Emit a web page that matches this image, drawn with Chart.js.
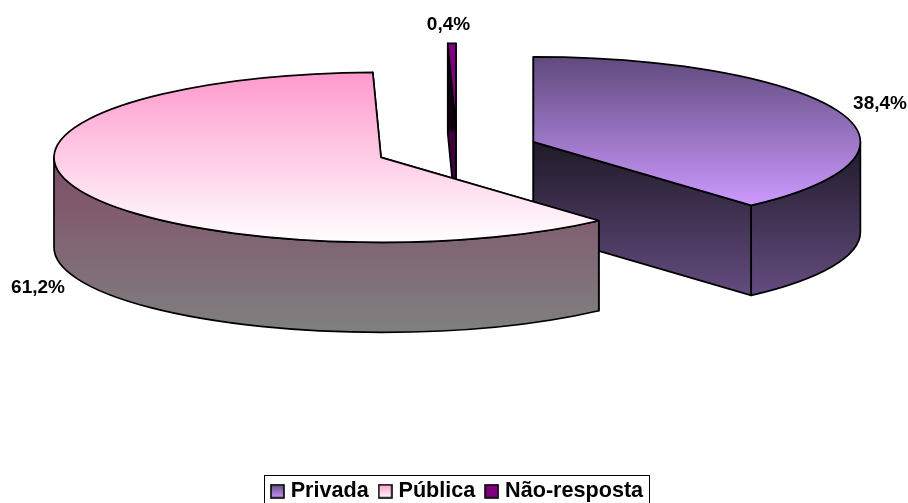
<!DOCTYPE html>
<html>
<head>
<meta charset="utf-8">
<style>
  html, body { margin: 0; padding: 0; background: #fff; overflow: hidden; }
  canvas { display: block; }
</style>
<script src="https://cdn.jsdelivr.net/npm/chart.js@4"></script>
</head>
<body>
<canvas id="chart" width="908" height="503"></canvas>
<script>
// Survey shares per category
const categories = ['Privada', 'Pública', 'Não-resposta'];
const shares = [38.4, 61.2, 0.4];

// Face colours per category: top surface gradient and wall gradient
const topFrom = ['#5f4a7d', '#ff99cc', '#800080'];
const topTo = ['#cc99ff', '#ffffff', '#800080'];
const wallFrom = ['#1f1a28', '#804c66', '#100010'];
const wallTo = ['#644c80', '#808080', '#400040'];
const swatchFrom = ['#5f4a7d', '#ff99cc', '#800080'];
const swatchTo = ['#cc99ff', '#ffffff', '#800080'];

// Pie projection in canvas pixels
const PIE = { cx: 457, cy: 149.5, rx: 327, ry: 85, depth: 90, explode: 0.25 };
const OUTLINE = 1.7;

// Anchor of each percentage label (text centre)
const labelX = [880, 38, 448.5];
const labelY = [104, 288, 25];

const LEGEND_FRAME = { left: 264, top: 475, right: 649, bottom: 506 };

function angleSpan(index) {
  const total = shares.reduce((a, b) => a + b, 0);
  const before = shares.slice(0, index).reduce((a, b) => a + b, 0);
  const start = -Math.PI / 2 + 2 * Math.PI * before / total;
  const end = start + 2 * Math.PI * shares[index] / total;
  return { start, end };
}

// Lowest point of a slice rim, as a fraction of the radius below its apex
function lowestSin(start, end) {
  if (start <= Math.PI / 2 && end >= Math.PI / 2) return 1;
  return Math.max(Math.sin(start), Math.sin(end));
}

// Slice that extrudes itself: walls first, then the flattened top from ArcElement
class Slice3D extends Chart.ArcElement {
  static id = 'slice3d';

  draw(ctx, area) {
    const i = this.$context.dataIndex;
    const { startAngle: a0, endAngle: a1, outerRadius: R } = this;
    const { rx, ry, depth, explode } = PIE;
    const mid = (a0 + a1) / 2;
    const ax = PIE.cx + Math.cos(mid) * explode * rx;
    const ay = PIE.cy + Math.sin(mid) * explode * ry;
    const rim = a => [ax + Math.cos(a) * rx, ay + Math.sin(a) * ry];
    const low = lowestSin(a0, a1) * ry;

    ctx.save();
    ctx.lineWidth = OUTLINE;
    ctx.lineJoin = 'round';
    ctx.strokeStyle = '#000';

    const wall = ctx.createLinearGradient(0, ay, 0, ay + low + depth);
    wall.addColorStop(0, wallFrom[i]);
    wall.addColorStop(1, wallTo[i]);
    ctx.fillStyle = wall;

    // radial cut faces
    [a0, a1].forEach(a => {
      const [px, py] = rim(a);
      ctx.beginPath();
      ctx.moveTo(ax, ay);
      ctx.lineTo(px, py);
      ctx.lineTo(px, py + depth);
      ctx.lineTo(ax, ay + depth);
      ctx.closePath();
      ctx.fill();
      ctx.stroke();
    });

    // curved outer wall, front half only
    const f0 = Math.max(a0, 0);
    const f1 = Math.min(a1, Math.PI);
    if (f0 < f1) {
      ctx.beginPath();
      ctx.ellipse(ax, ay, rx, ry, 0, f0, f1);
      ctx.ellipse(ax, ay + depth, rx, ry, 0, f1, f0, true);
      ctx.closePath();
      ctx.fill();
      ctx.stroke();
    }

    // top surface, squashed from the library's circular arc
    ctx.save();
    ctx.translate(ax, ay);
    ctx.scale(rx / R, ry / R);
    ctx.translate(-this.x, -this.y);
    super.draw(ctx, area);
    ctx.restore();

    ctx.beginPath();
    ctx.moveTo(ax, ay);
    ctx.ellipse(ax, ay, rx, ry, 0, a0, a1);
    ctx.closePath();
    ctx.stroke();
    ctx.restore();
  }
}

// Pie controller that paints slices back to front
class Pie3DController extends Chart.PieController {
  static id = 'pie3d';
  static defaults = { dataElementType: 'slice3d' };

  draw() {
    const ctx = this._ctx;
    const area = this.chart.chartArea;
    const depthKey = el => Math.sin((el.startAngle + el.endAngle) / 2);
    [...this._cachedMeta.data]
      .sort((a, b) => depthKey(a) - depthKey(b))
      .forEach(el => el.draw(ctx, area));
  }
}

Chart.register(Slice3D, Pie3DController);

// Top-surface gradient, expressed in the arc's unsquashed coordinates
function topGradient(c) {
  const i = c.dataIndex;
  const area = c.chart.chartArea;
  if (i === undefined || !area) return topFrom[0];
  const R = PIE.rx;
  const centre = (area.top + area.bottom) / 2;
  const { start, end } = angleSpan(i);
  const g = c.chart.ctx.createLinearGradient(0, centre - R, 0, centre + R * lowestSin(start, end));
  g.addColorStop(0, topFrom[i]);
  g.addColorStop(1, topTo[i]);
  return g;
}

// Small framed gradient boxes for the legend
function makeSwatch(i) {
  const s = document.createElement('canvas');
  s.width = 15;
  s.height = 15;
  const c = s.getContext('2d');
  const g = c.createLinearGradient(0, 0, 0, 15);
  g.addColorStop(0, swatchFrom[i]);
  g.addColorStop(1, swatchTo[i]);
  c.fillStyle = g;
  c.fillRect(1, 1, 13, 13);
  c.strokeStyle = '#000';
  c.lineWidth = 1.6;
  c.strokeRect(1, 1, 13, 13);
  return s;
}

const percentLabels = {
  id: 'percentLabels',
  afterDatasetsDraw(chart) {
    const ctx = chart.ctx;
    ctx.save();
    ctx.font = 'bold 19px "Liberation Sans", Arial, sans-serif';
    ctx.fillStyle = '#000';
    ctx.textAlign = 'center';
    ctx.textBaseline = 'middle';
    shares.forEach((v, i) => {
      ctx.fillText(v.toFixed(1).replace('.', ',') + '%', labelX[i], labelY[i]);
    });
    ctx.restore();
  }
};

const legendFrame = {
  id: 'legendFrame',
  afterDraw(chart) {
    const ctx = chart.ctx;
    const f = LEGEND_FRAME;
    ctx.save();
    ctx.strokeStyle = '#000';
    ctx.lineWidth = 1;
    ctx.strokeRect(f.left + 0.5, f.top + 0.5, f.right - f.left, f.bottom - f.top);
    ctx.restore();
  }
};

new Chart(document.getElementById('chart'), {
  type: 'pie3d',
  data: {
    labels: categories,
    datasets: [{
      data: shares,
      backgroundColor: topGradient,
      borderWidth: 0,
      hoverOffset: 0,
      clip: false
    }]
  },
  options: {
    responsive: false,
    animation: false,
    radius: PIE.rx,
    layout: { padding: { left: 10, bottom: -9 } },
    plugins: {
      tooltip: { enabled: false },
      legend: {
        position: 'bottom',
        labels: {
          usePointStyle: true,
          pointStyleWidth: 5,
          padding: 14,
          color: '#000',
          font: { family: '"Liberation Sans", Arial, sans-serif', size: 21.6, weight: 'bold' },
          generateLabels: chart => chart.data.labels.map((text, index) => ({
            text,
            index,
            datasetIndex: 0,
            hidden: false,
            lineWidth: 0,
            fontColor: '#000',
            pointStyle: makeSwatch(index)
          }))
        }
      }
    }
  },
  plugins: [percentLabels, legendFrame]
});
</script>
</body>
</html>
